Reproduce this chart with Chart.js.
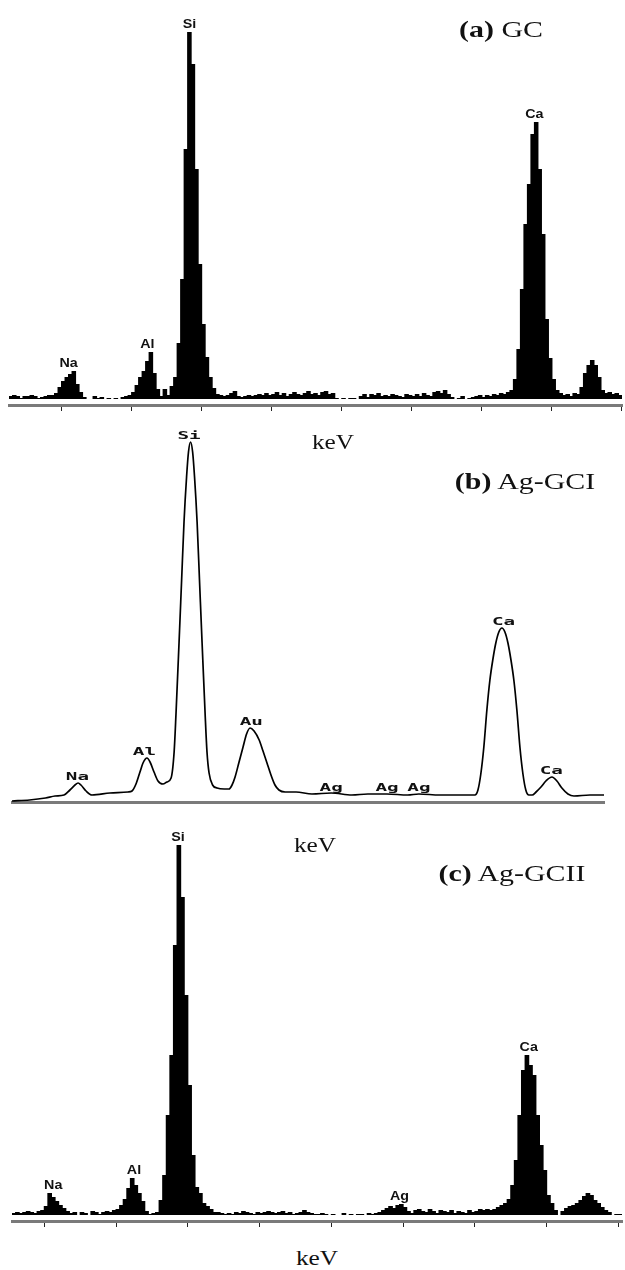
<!DOCTYPE html>
<html>
<head>
<meta charset="utf-8">
<title>EDX spectra – GC, Ag-GCI, Ag-GCII</title>
<script src="https://cdn.jsdelivr.net/npm/chart.js@4.4.1/dist/chart.umd.min.js"></script>
<style>
  html, body { margin: 0; padding: 0; background: #fff; }
  #page { position: relative; width: 625px; height: 1270px; overflow: hidden; }
  #page canvas { position: absolute; left: 0; }
  .txt {
    position: absolute; z-index: 2; white-space: nowrap; color: #111;
    font-family: "Liberation Serif", "DejaVu Serif", serif;
    transform: translate(-50%, -50%) scaleX(1.3);
  }
  .title { font-size: 23px; }
  .title b { font-weight: bold; }
  .kev { font-size: 22px; transform: translate(-50%, -50%) scaleX(1.15); }
</style>
</head>
<body>
<div id="page">
  <canvas id="specA" width="625" height="412" style="top:0"></canvas>
  <canvas id="specB" width="625" height="390" style="top:420px"></canvas>
  <canvas id="specC" width="625" height="400" style="top:830px"></canvas>

  <div class="txt title" style="left:501px; top:30px"><b>(a)</b> GC</div>
  <div class="txt kev" style="left:333px; top:442px">keV</div>
  <div class="txt title" style="left:525px; top:482px"><b>(b)</b> Ag-GCI</div>
  <div class="txt kev" style="left:315px; top:845px">keV</div>
  <div class="txt title" style="left:512px; top:874px"><b>(c)</b> Ag-GCII</div>
  <div class="txt kev" style="left:317px; top:1258px">keV</div>
</div>

<script>
// channel width of the histogram spectra, keV
const binWidth = 0.02;

// (a) GC – counts per channel, first channel starts at 0.70 keV
const startA = 0.70;
const countsA = [
  3, 4, 3, 1, 3, 3, 4, 3, 1, 2, 3, 4, 4,
  6, 12, 18, 22, 25, 28, 15, 7, 2, 0, 0,
  3, 1, 2, 0, 1, 0, 1, 0, 2, 3, 4,
  7, 14, 22, 28, 38, 47, 26, 10, 3, 10, 4, 13,
  22, 56, 120, 250, 367, 335, 230, 135, 75, 42, 22, 11, 5,
  4, 3, 4, 6, 8, 3, 2, 3, 4, 3, 4,
  5, 4, 6, 4, 5, 7, 4, 6, 3, 5,
  7, 5, 4, 6, 8, 5, 6, 4, 7, 8, 5, 6,
  1, 0, 1, 0, 1, 1, 0,
  3, 5, 2, 5, 4, 6, 3, 4, 3, 5, 4,
  3, 2, 5, 4, 3, 5, 3, 6, 4, 3, 7, 8, 6, 9,
  5, 2, 0, 1, 3, 0, 1, 2,
  3, 4, 2, 4, 3, 5, 4, 6, 5, 7, 9,
  20, 50, 110, 175, 215, 265, 277, 230, 165, 80, 41, 20, 9, 6,
  4, 5, 3, 6, 5,
  12, 26, 34, 39, 34, 22, 9, 6, 7, 5, 6, 4
];
const ticksA = [0.8, 1.2, 1.6, 2.0, 2.4, 2.8, 3.2, 3.6, 4.0];
const namesA = ["Na", "Al", "Si", "Ca"];
const labelKeVA = [1.04, 1.49, 1.73, 3.70];
const labelCountA = [28, 47, 367, 277];

// (b) Ag-GCI – smooth spectrum read point by point
const energyB = [
  0.62, 0.73, 0.83, 0.89, 0.946, 0.983, 1.015, 1.034, 1.052, 1.084,
  1.121, 1.234, 1.347, 1.372, 1.397, 1.422, 1.441, 1.466, 1.485, 1.510,
  1.535, 1.566, 1.591, 1.617, 1.636, 1.648, 1.667, 1.683, 1.698, 1.714,
  1.726, 1.739, 1.752, 1.764, 1.780, 1.795, 1.811, 1.830, 1.842, 1.855,
  1.877, 1.905, 1.950, 1.980, 1.999, 2.018, 2.043, 2.068, 2.090, 2.112,
  2.137, 2.169, 2.193, 2.218, 2.243, 2.268, 2.293, 2.331, 2.40, 2.50,
  2.62, 2.75, 2.85, 2.97, 3.10, 3.17, 3.30, 3.45, 3.521, 3.540,
  3.558, 3.577, 3.596, 3.615, 3.634, 3.652, 3.671, 3.690, 3.709, 3.728,
  3.746, 3.765, 3.784, 3.803, 3.822, 3.840, 3.859, 3.880, 3.904, 3.935,
  3.966, 4.004, 4.035, 4.066, 4.104, 4.142, 4.242, 4.330
];
const countsB = [
  1, 2, 4, 6, 7, 12, 17, 19, 17, 11,
  7, 9, 10, 11, 18, 30, 39, 44, 40, 30,
  21, 18, 20, 24, 50, 89, 160, 222, 280, 325,
  350, 360, 350, 325, 280, 222, 160, 89, 50, 29,
  17, 14, 13, 13, 17, 25, 40, 55, 68, 74,
  71, 62, 51, 39, 27, 17, 12, 10, 10, 8,
  9, 7, 8, 8, 7, 8, 7, 7, 7, 12,
  28, 55, 92, 122, 143, 159, 170, 174, 170, 159,
  143, 122, 92, 55, 28, 12, 7, 7, 10, 15,
  21, 25, 21, 14, 8, 6, 7, 7
];
const namesB = ["Na", "Al", "Si", "Au", "Ag", "Ag", "Ag", "Ca", "Ca"];
const labelKeVB = [1.03, 1.45, 1.73, 2.12, 2.62, 2.97, 3.17, 3.70, 4.00];
const labelCountB = [19, 44, 360, 74, 8, 8, 8, 174, 25];

// (c) Ag-GCII – counts per channel, first channel starts at 0.82 keV
const startC = 0.82;
const countsC = [
  2, 3, 2, 3, 4, 3, 2, 4,
  5, 9, 22, 18, 14, 10, 7, 4, 2,
  3, 0, 3, 2, 0, 4, 3, 1, 3, 4, 3, 5,
  6, 10, 16, 27, 37, 30, 22, 14, 4, 1, 2, 3,
  15, 40, 100, 160, 270, 370, 318, 220, 130, 60, 28, 22, 12, 9, 6, 3,
  3, 2, 1, 2, 1, 3, 2, 4, 3, 2, 1, 3, 2, 3,
  4, 3, 2, 3, 4, 2, 3, 1, 2, 3, 5, 3, 2, 1, 1, 2, 1,
  0, 1, 0, 0, 2, 0, 1, 0, 1, 1, 0, 2, 1,
  2, 3, 5, 7, 9, 7, 10, 11, 8, 4,
  2, 5, 6, 4, 3, 6, 4, 2, 5, 4, 3, 5, 2, 4, 3, 2, 5, 3, 4, 6, 5, 6,
  5, 6, 8, 10, 12, 16, 30, 55, 100, 145, 160, 150, 140, 100, 70, 45, 20, 12, 5, 0,
  4, 7, 9, 10, 12, 15, 19, 22, 20, 15, 12, 8, 5, 3, 0, 1, 1
];
const ticksC = [1.2, 1.6, 2.0, 2.4, 2.8, 3.2, 3.6, 4.0];
const namesC = ["Na", "Al", "Si", "Ag", "Ca"];
const labelKeVC = [1.05, 1.50, 1.745, 2.98, 3.70];
const labelCountC = [22, 37, 370, 11, 160];

// element names drawn just above their peaks
const peakLabels = {
  id: "peakLabels",
  afterDatasetsDraw(chart, args, opts) {
    const { ctx, scales: { x, y } } = chart;
    ctx.save();
    ctx.font = opts.font;
    ctx.fillStyle = "#111";
    ctx.textAlign = "center";
    ctx.textBaseline = "alphabetic";
    opts.names.forEach((name, i) => {
      const px = x.getPixelForValue(opts.keV[i]);
      const py = y.getPixelForValue(opts.counts[i]) - opts.gap;
      ctx.save();
      ctx.translate(px, py);
      ctx.scale(opts.stretch, 1);
      ctx.fillText(name, 0, 0);
      ctx.restore();
    });
    ctx.restore();
  }
};

const axisBorder = { display: true, color: "#7a7a7a", width: 3 };

function histogram(id, start, counts, ticks, range, pad, labels) {
  const data = counts.map((c, i) => ({ x: start + binWidth * (i + 0.5), y: c }));
  return new Chart(document.getElementById(id), {
    type: "bar",
    data: {
      datasets: [{
        data,
        backgroundColor: "#000",
        borderWidth: 0,
        barPercentage: 1.3,
        categoryPercentage: 1
      }]
    },
    options: {
      responsive: false,
      devicePixelRatio: 1,
      animation: false,
      layout: { padding: pad },
      plugins: { legend: { display: false }, tooltip: { enabled: false }, peakLabels: labels },
      scales: {
        x: {
          type: "linear",
          offset: false,
          min: range.xMin,
          max: range.xMax,
          afterBuildTicks: (scale) => { scale.ticks = ticks.map((v) => ({ value: v })); },
          ticks: { display: false },
          grid: { display: true, drawOnChartArea: false, drawTicks: true, tickLength: 6, color: "#222", lineWidth: 1 },
          border: axisBorder
        },
        y: { display: false, min: range.yMin, max: range.yMax }
      }
    },
    plugins: [peakLabels]
  });
}

histogram("specA", startA, countsA, ticksA,
  { xMin: 0.70, xMax: 4.20, yMin: -6, yMax: 399 },
  { left: 9, right: 3, top: 0, bottom: 1 },
  { names: namesA, keV: labelKeVA, counts: labelCountA, gap: 4, stretch: 1.1,
    font: "bold 13px 'Liberation Sans', Arial, sans-serif" });

histogram("specC", startC, countsC, ticksC,
  { xMin: 0.82, xMax: 4.22, yMin: -6, yMax: 385 },
  { left: 12, right: 3, top: 0, bottom: 3 },
  { names: namesC, keV: labelKeVC, counts: labelCountC, gap: 4, stretch: 1.1,
    font: "bold 13px 'Liberation Sans', Arial, sans-serif" });

new Chart(document.getElementById("specB"), {
  type: "line",
  data: {
    datasets: [{
      data: energyB.map((e, i) => ({ x: e, y: countsB[i] })),
      borderColor: "#000",
      borderWidth: 1.7,
      pointRadius: 0,
      fill: false,
      cubicInterpolationMode: "monotone"
    }]
  },
  options: {
    responsive: false,
    devicePixelRatio: 1,
    animation: false,
    layout: { padding: { left: 12, right: 21, top: 0, bottom: 8 } },
    plugins: {
      legend: { display: false },
      tooltip: { enabled: false },
      peakLabels: { names: namesB, keV: labelKeVB, counts: labelCountB, gap: 3, stretch: 1.75,
        font: "bold 11px 'DejaVu Sans Mono', 'Liberation Mono', monospace" }
    },
    scales: {
      x: {
        type: "linear", min: 0.62, max: 4.33,
        ticks: { display: false },
        grid: { display: false, drawTicks: false },
        border: axisBorder
      },
      y: { display: false, min: 0, max: 382 }
    }
  },
  plugins: [peakLabels]
});
</script>
</body>
</html>
